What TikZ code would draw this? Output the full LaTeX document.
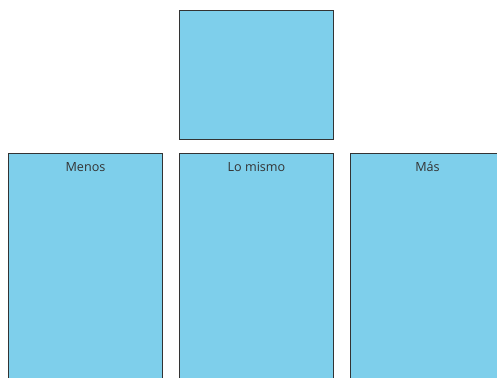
\documentclass[tikz,border=0pt]{standalone}
\usepackage{fontspec}
\setmainfont{Open Sans}
\usetikzlibrary{positioning}
\definecolor{boxblue}{HTML}{7ECFEB}
\definecolor{boxline}{HTML}{333333}
\tikzset{
  box/.style={draw=boxline, line width=1pt, fill=boxblue, inner sep=0pt},
  boxtext/.style={text=boxline, font=\fontsize{12.6}{15}\selectfont, inner sep=0pt, text height=9.5pt, text depth=3pt}
}
\begin{document}
\begin{tikzpicture}[x=1pt,y=-1pt]
		\def\bw{154} % box width
		\def\bs{171} % shift from one box to the next
		\useasboundingbox (0,0) rectangle (497,377);
		\clip (0,0) rectangle (497,377);
		
		\node [box, minimum width=\bw pt, minimum height=128pt] (top) at (256,75) {};
		
		\foreach \name/\txt [count=\i] in {menos/Menos, mismo/Lo mismo, mas/Más}
		{
			\node [box, minimum width=\bw pt, minimum height=260pt, anchor=north west] %bottom row
			(\name) at (8 + \i * \bs - \bs, 153) {};
			\node [boxtext, below=9pt of \name.north] (\name txt) {\txt};
		}
\end{tikzpicture}
\end{document}
